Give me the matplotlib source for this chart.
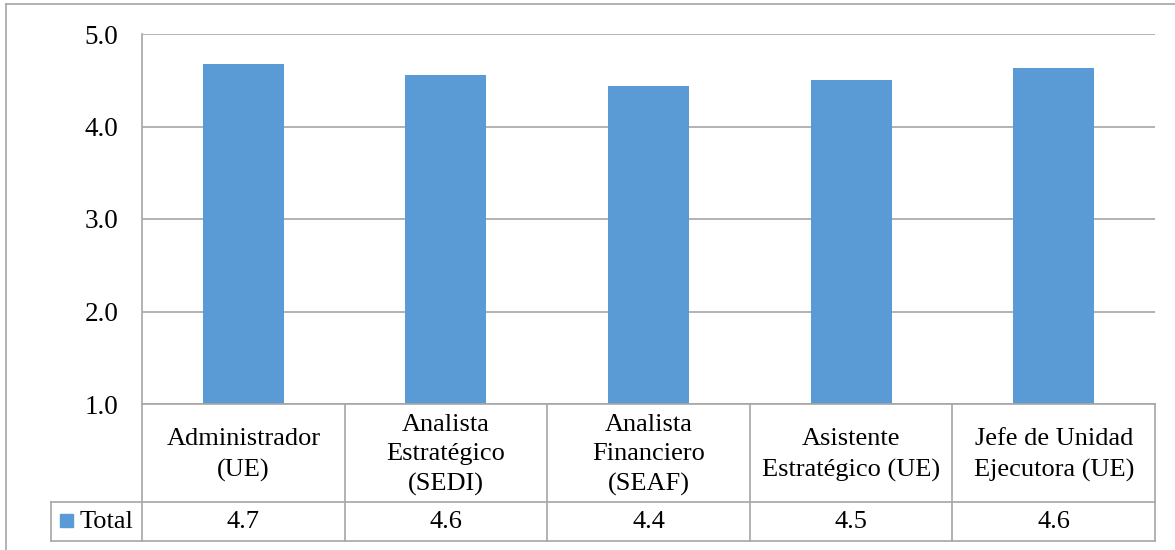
import matplotlib.pyplot as plt
from matplotlib.lines import Line2D
from matplotlib.patches import Rectangle
from matplotlib.transforms import blended_transform_factory

plt.rcParams['font.family'] = ['Liberation Serif', 'DejaVu Serif']

# ---- data ----
categories = ["Administrador\n(UE)", "Analista\nEstratégico\n(SEDI)",
              "Analista\nFinanciero\n(SEAF)", "Asistente\nEstratégico (UE)",
              "Jefe de Unidad\nEjecutora (UE)"]
totals = [4.68, 4.56, 4.44, 4.50, 4.63]
series_name = "Total"
yticks = [1.0, 2.0, 3.0, 4.0, 5.0]

BAR = "#5B9BD5"
GRID = "#A6A6A6"

W, H = 1175, 550
fig = plt.figure(figsize=(W / 100, H / 100), dpi=100)

# plot area in pixel terms
left, right, top, bottom = 142, 1155, 34, 404
ax = fig.add_axes([left / W, 1 - bottom / H, (right - left) / W, (bottom - top) / H])
x = list(range(len(totals)))
ax.bar(x, totals, width=0.4, color=BAR, zorder=3, bottom=0)
ax.set_xlim(-0.5, len(totals) - 0.5)
ax.set_ylim(yticks[0], yticks[-1])
ax.set_yticks(yticks)
ax.set_yticklabels([f"{t:.1f}" for t in yticks], fontsize=19.5)
ax.tick_params(axis='y', length=0, pad=17)
ax.set_xticks([])
ax.yaxis.grid(True, color=GRID, linewidth=1.2, zorder=0)
for s in ["top", "right", "bottom"]:
    ax.spines[s].set_visible(False)
ax.spines["left"].set_color(GRID)
ax.spines["left"].set_linewidth(1.2)

# overlay in pixel coordinates for the data table and chart frame
ov = fig.add_axes([0, 0, 1, 1], zorder=5)
ov.set_xlim(0, W)
ov.set_ylim(H, 0)
ov.axis("off")
ov.patch.set_visible(False)
tr = blended_transform_factory(ax.transData, ov.transData)

row1, row2, row3 = 404, 502, 541
n = len(totals)
lw = 1.2
# horizontal rules of the table
ov.add_line(Line2D([-0.5, n - 0.5], [row1, row1], transform=tr, color=GRID, lw=lw))
for yy in (row2, row3):
    ov.add_line(Line2D([51, right], [yy, yy], color=GRID, lw=lw))
# vertical rules
ov.add_line(Line2D([51, 51], [row2, row3], color=GRID, lw=lw))
ov.add_line(Line2D([left, left], [row1, row3], color=GRID, lw=lw))
for i in range(1, n + 1):
    xb = i - 0.5
    ov.add_line(Line2D([xb, xb], [row1, row3], transform=tr, color=GRID, lw=lw))

# category names and values
for i, (cat, v) in enumerate(zip(categories, totals)):
    ov.text(i, (row1 + row2) / 2 + 2, cat, transform=tr, ha="center", va="center",
            fontsize=19, linespacing=1.45)
    ov.text(i, (row2 + row3) / 2 + 1, f"{v:.1f}", transform=tr, ha="center",
            va="center", fontsize=19)

# legend key in the series row
ov.add_patch(Rectangle((60, 514), 13, 13, color=BAR))
ov.text(80, (row2 + row3) / 2 + 1, series_name, ha="left", va="center", fontsize=19)

# chart frame
ov.add_line(Line2D([6, 6], [4, H], color=GRID, lw=lw))
ov.add_line(Line2D([6, W], [4, 4], color=GRID, lw=lw))

fig.savefig("out.png", dpi=100)
